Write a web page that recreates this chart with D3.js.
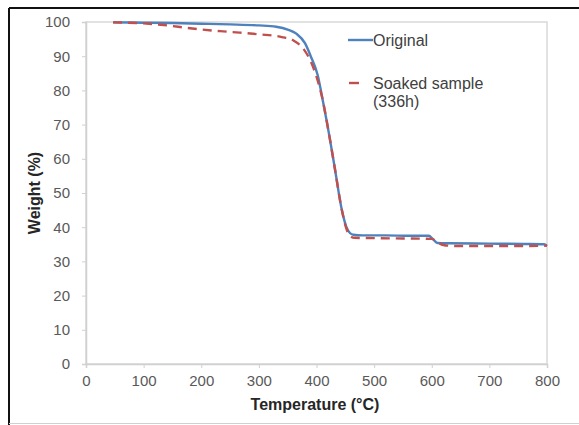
<!DOCTYPE html>
<html>
<head>
<meta charset="utf-8">
<script src="https://cdn.jsdelivr.net/npm/d3@7"></script>
<style>
  html, body { margin: 0; padding: 0; background: #fff; }
  svg { display: block; font-family: "Liberation Sans", Arial, sans-serif; }
</style>
</head>
<body>
<svg id="chart" width="579" height="425"></svg>
<script>
// TGA curves: temperature (°C) vs remaining weight (%)
const originalTemp   = [47, 100, 150, 200, 250, 300, 330, 350, 365, 380, 390, 402, 411, 422, 432, 444, 452, 458, 464, 480, 520, 560, 595, 602, 610, 630, 700, 760, 795, 800];
const originalWeight = [99.9, 99.8, 99.7, 99.5, 99.3, 99.0, 98.6, 97.8, 96.6, 93.8, 90.0, 84.5, 77.0, 67.0, 57.0, 45.0, 40.0, 38.3, 37.8, 37.6, 37.6, 37.5, 37.5, 36.5, 35.4, 35.3, 35.2, 35.1, 35.0, 34.5];

const soakedTemp   = [47, 100, 130, 160, 200, 250, 300, 340, 360, 378, 390, 400, 411, 422, 432, 444, 452, 458, 466, 500, 550, 600, 610, 620, 640, 700, 760, 800];
const soakedWeight = [99.9, 99.6, 99.2, 98.6, 97.8, 97.1, 96.4, 95.6, 94.6, 92.0, 88.5, 84.0, 77.0, 67.0, 57.0, 45.0, 39.5, 37.5, 36.9, 36.8, 36.7, 36.6, 35.6, 34.8, 34.5, 34.5, 34.5, 34.6];

const xTicks = [0, 100, 200, 300, 400, 500, 600, 700, 800];
const yTicks = [0, 10, 20, 30, 40, 50, 60, 70, 80, 90, 100];

const seriesNames = ["Original", "Soaked sample", "(336h)"];
const colors = { original: "#4F81BD", soaked: "#C0504D" };

const svg = d3.select("#chart");
const plot = { left: 86, right: 547, top: 22, bottom: 364 };

const x = d3.scaleLinear().domain([0, 800]).range([plot.left, plot.right]);
const y = d3.scaleLinear().domain([0, 100]).range([plot.bottom, plot.top]);

// outer frame
svg.append("line").attr("x1", 9).attr("x2", 579).attr("y1", 8).attr("y2", 8)
  .attr("stroke", "#111").attr("stroke-width", 2);
svg.append("line").attr("x1", 9).attr("x2", 9).attr("y1", 8).attr("y2", 425)
  .attr("stroke", "#111").attr("stroke-width", 2);
svg.append("line").attr("x1", 9).attr("x2", 579).attr("y1", 423.5).attr("y2", 423.5)
  .attr("stroke", "#d0d0d0").attr("stroke-width", 1);

// plot area border
svg.append("rect")
  .attr("x", plot.left).attr("y", plot.top)
  .attr("width", plot.right - plot.left).attr("height", plot.bottom - plot.top)
  .attr("fill", "none").attr("stroke", "#d9d9d9").attr("stroke-width", 1.5);

// axes
const xAxis = d3.axisBottom(x).tickValues(xTicks).tickSize(4).tickPadding(7);
const yAxis = d3.axisLeft(y).tickValues(yTicks).tickSize(4).tickPadding(12);

const gx = svg.append("g").attr("transform", `translate(0,${plot.bottom})`).call(xAxis);
const gy = svg.append("g").attr("transform", `translate(${plot.left},0)`).call(yAxis);

[gx, gy].forEach(g => {
  g.select(".domain").attr("stroke", "#d0d0d0").attr("stroke-width", 1.5);
  g.selectAll(".tick line").attr("stroke", "#d0d0d0");
  g.selectAll(".tick text")
    .attr("fill", "#595959")
    .style("font-size", "15px")
    .style("font-family", "'Liberation Sans', Arial, sans-serif");
});

// axis titles
svg.append("text")
  .attr("x", 315).attr("y", 410)
  .attr("text-anchor", "middle")
  .attr("font-weight", "bold").attr("font-size", "16px").attr("fill", "#262626")
  .text("Temperature (°C)");
svg.append("text")
  .attr("transform", `translate(40,${193}) rotate(-90)`)
  .attr("text-anchor", "middle")
  .attr("font-weight", "bold").attr("font-size", "16px").attr("fill", "#262626")
  .text("Weight (%)");

// curves
const line = d3.line().x(d => x(d[0])).y(d => y(d[1])).curve(d3.curveMonotoneX);

svg.append("path")
  .datum(d3.zip(originalTemp, originalWeight))
  .attr("d", line)
  .attr("fill", "none").attr("stroke", colors.original).attr("stroke-width", 2.4);

svg.append("path")
  .datum(d3.zip(soakedTemp, soakedWeight))
  .attr("d", line)
  .attr("fill", "none").attr("stroke", colors.soaked).attr("stroke-width", 2.4)
  .attr("stroke-dasharray", "9,6");

// legend
const lg = svg.append("g").attr("font-size", "16px").attr("fill", "#404040");
lg.append("line").attr("x1", 348).attr("x2", 373).attr("y1", 40).attr("y2", 40)
  .attr("stroke", colors.original).attr("stroke-width", 2.4);
lg.append("text").attr("x", 373).attr("y", 46).text(seriesNames[0]);
lg.append("line").attr("x1", 349).attr("x2", 359).attr("y1", 83).attr("y2", 83)
  .attr("stroke", colors.soaked).attr("stroke-width", 2.4);
lg.append("text").attr("x", 373).attr("y", 89).text(seriesNames[1]);
lg.append("text").attr("x", 373).attr("y", 107).text(seriesNames[2]);
</script>
</body>
</html>
